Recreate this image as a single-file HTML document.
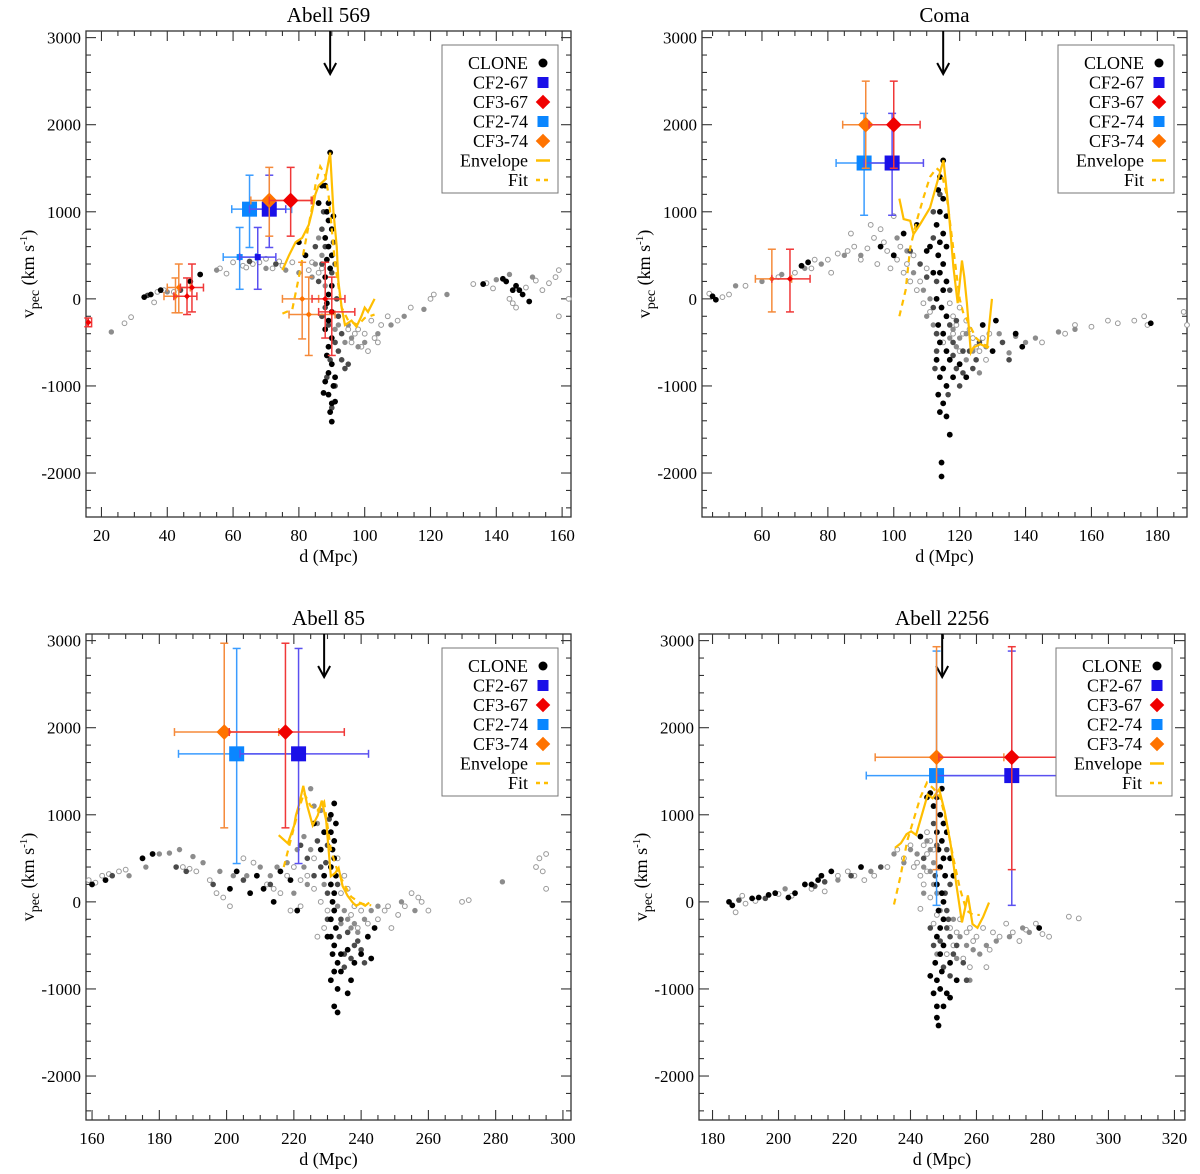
<!DOCTYPE html>
<html><head><meta charset="utf-8"><style>
html,body{margin:0;padding:0;background:#fff;}
svg{display:block;font-family:"Liberation Serif",serif;}
</style></head><body>
<svg id="fig" width="1200" height="1174" viewBox="0 0 1200 1174" xmlns="http://www.w3.org/2000/svg"></svg>
<script>
// ---------- DATA ----------
const titles = ["Abell 569","Coma","Abell 85","Abell 2256"];
const arrowD = [89.5, 115, 229, 249.6];
// Abell 569
const p1Black = [[89.5,1680],[88,1300],[89,1100],[88.5,1000],[89,900],[90,800],[88,700],[89,600],[90,500],[88.5,450],[89.5,350],[88,250],[90,150],[89,50],[88.5,-50],[90,-150],[89,-250],[88,-350],[90,-450],[89,-550],[88.5,-650],[90,-750],[89,-850],[88,-950],[90.5,-1000],[89,-1100],[90,-1200],[89.5,-1300],[90,-1410],[87.5,-1080],[91,-1180],[86,1100],[87,1300],[90.5,950],[91,-900],[33,20],[35,50],[38,100],[47,200],[50,280],[80,650],[82,500],[142,230],[143,200],[146,150],[145,100],[148,50],[150,-30],[147,100],[136,170]];
const p1Dark = [[87,800],[88,600],[91,400],[92,-200],[93,-700],[94,-800],[92,-600],[90,-1250],[91,-1000],[87,400],[86,200],[85,600],[89,-300],[34,40],[44,100],[65,430],[73,400],[95,-750],[93,-400],[90.5,650],[87.5,1000],[90,300],[88,-100],[91,-500],[89.5,-700],[88.5,-900],[87,-200],[91.5,0]];
const p1Gray = [[23,-380],[40,80],[55,330],[70,350],[76,330],[80,300],[84,250],[92,-300],[96,-450],[100,-500],[104,-400],[108,-300],[112,-200],[118,-120],[125,50],[140,220],[144,280],[151,250],[95,-300],[98,-550],[86,700],[87,500],[85,400],[88,150],[91,-350],[94,-500]];
const p1Open = [[27,-280],[29,-210],[36,-40],[37,80],[39,100],[42,80],[56,350],[58,290],[63,380],[66,400],[68,420],[72,350],[75,380],[78,420],[83,330],[86,300],[95,-350],[97,-400],[99,-550],[101,-600],[103,-450],[105,-300],[107,-200],[110,-250],[114,-100],[120,0],[121,50],[133,170],[137,180],[139,120],[144,0],[145,-50],[146,-100],[149,130],[152,210],[154,100],[156,180],[158,250],[159,330],[159,-200],[162,0],[100,-400],[102,-250],[60,420],[64,360],[70,460],[74,430],[84,420],[87,350],[96,-500],[98,-350],[104,-500]];
const p1Env = [[75,330],[77,500],[79,650],[81,700],[83,850],[84,1000],[85,1200],[86,1300],[88,1370],[89.5,1680],[90.5,1000],[91.5,600],[92,200],[93,-100],[94,-300],[96,-250],[97.5,-320],[99,-200],[100,-100],[101,-150],[103,0]];
const p1Fit = [[75,-170],[78,-120],[80,250],[82,650],[84,1050],[85,1300],[86.5,1520],[88,1420],[89,1200],[90,800],[91,400],[92,150],[93,-100],[95,-250],[98,-300],[100,-220],[103,-180]];
const p1Err = [[65,1030,59.6,77.8,590,1420,"cf274",1],[71,1030,65,76,590,1420,"cf267",1],[71,1130,65.4,83.7,720,1510,"cf374",1],[77.5,1130,71,84,720,1510,"cf367",1],
 [62,480,57,67,110,820,"cf274",0],[67.5,480,62,73,110,820,"cf267",0],[43.5,130,40,47,-160,400,"cf374",0],[42.5,30,39,46,-160,240,"cf374",0],[47.5,130,44,51,-150,400,"cf367",0],[46,30,42,49,-180,240,"cf367",0],
 [81,0,75,86,-460,420,"cf374",0],[83,-180,77,91,-650,250,"cf374",0],[88,0,84,94,-450,420,"cf367",0],[90,-150,86,97,-650,250,"cf367",0],[16,-270,15.5,17,-320,-220,"cf367",0]];
// Coma
const p2Black = [[115,1590],[114,1400],[113.5,1250],[115,1150],[114,1000],[116,950],[113,850],[115,750],[114,650],[116,600],[113.5,500],[115,400],[114,300],[116,200],[115,100],[113,0],[114.5,-100],[116,-200],[113.5,-300],[115,-400],[114,-500],[116,-600],[113,-700],[115,-800],[114,-900],[116,-1000],[113.5,-1100],[115,-1200],[114,-1300],[116,-1350],[117,-1560],[114.5,-1880],[114.5,-2040],[117,-700],[118,-900],[112,300],[111,600],[45,30],[46,-10],[72,380],[74,420],[96,600],[100,500],[103,750],[107,850],[110,550],[127,-300],[131,-250],[137,-400],[139,-550],[178,-280],[130,-600],[120,-750],[122,-900]];
const p2Dark = [[112,700],[113,200],[117,-300],[118,-500],[119,-800],[120,-1000],[121,-850],[123,-600],[125,-700],[117,100],[108,400],[105,550],[110,250],[113,-600],[126,-500],[133,-500],[135,-700],[119,-250],[112,-100],[113,-400],[112.5,-800],[116.5,-1100],[114,1200],[112,1000],[118,-650],[121,-600],[124,-800]];
const p2Gray = [[101,700],[104,550],[106,300],[109,100],[111,0],[118,-350],[120,-450],[122,-400],[124,-600],[128,-550],[132,-400],[135,-620],[137,-430],[140,-500],[143,-450],[150,-380],[155,-350],[52,150],[60,200],[66,280],[73,350],[78,400],[85,500],[90,500],[112,-300],[110,-200],[117,-450],[119,-550],[122,-700],[126,-850]];
const p2Open = [[44,60],[48,20],[50,50],[55,150],[65,250],[70,300],[76,450],[80,450],[83,520],[86,550],[88,600],[90,450],[92,580],[94,700],[96,800],[98,550],[99,350],[101,450],[103,300],[105,200],[107,100],[109,-50],[111,-150],[113,-400],[115,-500],[117,-50],[118,-200],[119,-300],[120,-100],[121,-400],[122,-250],[124,-450],[126,-600],[128,-700],[129,-400],[145,-500],[152,-400],[155,-300],[160,-320],[165,-250],[168,-280],[173,-250],[176,-200],[177,-300],[188,-150],[189,-300],[87,750],[93,850],[100,950],[75,350],[81,300],[95,400],[97,650],[102,600],[104,400],[106,500],[108,200],[110,350],[118,-400],[120,-600],[123,-350],[125,-550],[127,-450]];
const p2Env = [[101.7,1151],[103,916],[105,897],[106,743],[108,857],[111,1045],[113.1,1328],[115.1,1592],[116.6,1045],[118.1,366],[119.4,-49],[120.7,440],[121.4,253],[122.2,-49],[123.4,-615],[124.2,-558],[126.3,-520],[128.3,-558],[129.8,0]];
const p2Fit = [[101.7,-200],[103.6,100],[105,590],[107,900],[109,1160],[111,1400],[113,1500],[114.5,1450],[116,1200],[117,900],[118,600],[119,300],[120,0],[121,-150],[123,-300],[125,-450],[127,-520],[129,-560]];
const p2Err = [[91,1560,82.5,100,960,2130,"cf274",1],[99.5,1560,91,109,960,2130,"cf267",1],[91.5,2000,84.5,99,1500,2500,"cf374",1],[100,2000,92.5,108,1500,2500,"cf367",1],
 [63,230,58,69,-150,570,"cf374",0],[68.5,230,63,74.6,-150,570,"cf367",0]];
// Abell 85
const p3Black = [[232,1130],[231,1000],[232.5,900],[231,800],[232,700],[231.5,600],[232,500],[231,400],[232.5,300],[231,200],[232,100],[231.5,0],[232,-100],[231,-200],[232.5,-300],[231,-400],[232,-500],[231.5,-600],[233,-700],[232,-800],[231,-900],[233,-1000],[232,-1200],[233,-1270],[228,600],[229,300],[226,900],[229,800],[230,-400],[234,-600],[236,-550],[238,-700],[240,-600],[242,-400],[244,-300],[243,-650],[160,200],[164,250],[175,500],[178,550],[209,300],[211,150],[214,0],[216,350],[219,250],[221,-100],[201,150],[203,350],[207,100],[234,-800],[236,-1050],[237,-900]];
const p3Dark = [[227,700],[228,400],[230,100],[234,-200],[236,-350],[238,-500],[240,-550],[226,300],[224,500],[222,650],[213,200],[205,250],[196,200],[188,350],[185,400],[166,300],[232,-800],[235,-600],[239,-450],[241,-700],[230,650],[230.5,950],[229.5,450],[233,200],[230,-200],[233.5,-400],[235,-750],[237,-650]];
const p3Gray = [[180,550],[183,560],[186,600],[190,520],[193,450],[198,350],[202,300],[206,300],[210,400],[213,300],[215,400],[218,450],[221,600],[223,750],[225,1300],[226,1100],[229,200],[233,-50],[235,-100],[236,-200],[237,-300],[239,-350],[241,-200],[243,-100],[245,-50],[252,0],[256,-100],[282,230],[171,300],[176,400],[220,100],[224,200],[227,900],[228,1050],[225,600],[223,400],[234,-250],[238,-250]];
const p3Open = [[159,250],[161,220],[163,300],[165,320],[168,350],[170,370],[187,400],[189,380],[191,350],[195,250],[197,100],[199,50],[201,-50],[205,500],[208,450],[212,200],[214,150],[216,100],[219,-100],[222,-50],[224,300],[226,150],[228,0],[230,-100],[234,100],[236,150],[238,-50],[240,-100],[242,-250],[245,-200],[247,-100],[249,-300],[251,-150],[253,-50],[255,100],[257,50],[258,0],[260,-100],[270,0],[272,20],[293,500],[295,550],[294,350],[295,150],[292,400],[233,500],[229,-300],[227,-400],[248,-50],[218,300],[220,400],[222,250],[226,500],[235,300],[237,-150],[239,-300]];
const p3Env = [[215.5,766],[218.2,672],[220.1,879],[220.6,992],[221.6,1124],[222.8,1332],[224.1,1087],[225.6,879],[227.1,992],[228.3,1162],[229.6,936],[231,294],[232.3,332],[233.3,389],[234.5,181],[236,68],[237.5,-8],[238.5,-45],[240,-15],[241.2,-45],[242.4,-8]];
const p3Fit = [[217,400],[219,700],[221,1000],[223,1250],[225,1100],[227,1050],[229,1150],[231,600],[233,350],[235,200],[237,60],[240,-20],[243,-40]];
const p3Err = [[203,1700,185.7,220,440,2910,"cf274",1],[221.4,1700,204,242.2,440,2910,"cf267",1],[199.3,1950,184.5,215.5,850,2970,"cf374",1],[217.5,1950,200.8,235,850,2970,"cf367",1]];
// Abell 2256
const p4Black = [[249.5,1300],[248,1200],[247,1100],[249,1000],[250,900],[248,800],[249.5,700],[248.5,600],[250,500],[249,400],[250.5,300],[248,200],[249.5,100],[250,0],[248.5,-100],[250,-200],[249,-300],[248,-400],[250,-500],[249,-600],[247.5,-700],[249.5,-800],[248,-900],[246,-850],[247,-1050],[249,-1000],[251,-1050],[252,-1100],[248,-1200],[250,-1200],[248,-1330],[248.5,-1420],[245,1200],[243,750],[246,1250],[251,800],[252,500],[253,300],[185,0],[186,-40],[192,40],[194,50],[197,80],[199,100],[203,50],[205,100],[208,200],[210,200],[212,250],[213,300],[216,350],[225,400],[279,-300],[252,-700],[254,-900]];
const p4Dark = [[247,900],[248,650],[251,600],[252,200],[251,-300],[252,-400],[253,-600],[254,-500],[256,-700],[250,-750],[252,-850],[257,-900],[188,20],[196,40],[211,180],[214,230],[222,300],[231,400],[244,500],[246,-300],[250.5,100],[251,-100],[247,-500],[249,-450],[251.5,-200],[247.5,300]];
const p4Gray = [[235,550],[238,450],[240,600],[242,550],[244,400],[246,350],[247,200],[248,100],[249,-100],[253,-200],[255,-400],[257,-500],[259,-550],[261,-600],[263,-500],[266,-450],[270,-400],[274,-300],[276,-350],[202,150],[218,250],[228,350],[258,-900],[244,100],[245,700],[246,600],[247,450],[248,-600],[254,-650]];
const p4Open = [[187,-120],[189,70],[190,-20],[193,10],[200,90],[204,70],[210,150],[214,120],[218,300],[221,350],[223,300],[226,250],[229,300],[233,400],[236,600],[238,500],[240,650],[241,400],[242,450],[243,300],[244,200],[245,550],[246,50],[247,600],[248,-150],[251,-600],[253,-500],[254,-350],[255,-200],[256,-650],[258,-300],[260,-400],[262,-300],[264,-550],[265,-350],[267,-400],[269,-250],[271,-350],[273,-450],[275,-320],[278,-250],[280,-370],[282,-400],[288,-170],[291,-190],[258,-750],[263,-750],[245,800],[243,-80],[244,650],[246,700],[245,350],[247,-250],[252,-300],[257,-350],[259,-450]];
const p4Env = [[235.3,620],[237.1,674],[238.8,777],[240.2,810],[241.7,769],[243.4,992],[245.2,1231],[246.7,1190],[248.7,1293],[250.4,1033],[252.2,653],[253.9,198],[255.6,-236],[257.4,74],[258.8,-256],[260.3,-298],[262,-174],[263.8,-8]];
const p4Fit = [[235,-30],[237,300],[239,700],[241,950],[243,1200],[245,1370],[247,1300],[249,1200],[251,900],[253,500],[255,150],[257,-100],[259,-150],[261,-150]];
const p4Err = [[247.9,1450,226.6,270,-40,2880,"cf274",1],[270.7,1450,248,296.3,-40,2880,"cf267",1],[247.9,1660,229.3,268.3,370,2930,"cf374",1],[270.7,1660,248.6,292.8,370,2930,"cf367",1]];
const yTicks = [-2000,-1000,0,1000,2000,3000];
const legendLabels = ["CLONE","CF2-67","CF3-67","CF2-74","CF3-74","Envelope","Fit"];

// ---------- LAYOUT ----------
const panels = [
 {px0:86,px1:571,py0:31,py1:517,d0:15.3,d1:162.7,xt:[20,40,60,80,100,120,140,160],blk:p1Black,dk:p1Dark,gr:p1Gray,op:p1Open,env:p1Env,fit:p1Fit,err:p1Err},
 {px0:702,px1:1187,py0:31,py1:517,d0:41.8,d1:189,xt:[60,80,100,120,140,160,180],blk:p2Black,dk:p2Dark,gr:p2Gray,op:p2Open,env:p2Env,fit:p2Fit,err:p2Err},
 {px0:86,px1:571,py0:634,py1:1120,d0:158.2,d1:302.4,xt:[160,180,200,220,240,260,280,300],blk:p3Black,dk:p3Dark,gr:p3Gray,op:p3Open,env:p3Env,fit:p3Fit,err:p3Err},
 {px0:699,px1:1185,py0:634,py1:1120,d0:175.9,d1:323.2,xt:[180,200,220,240,260,280,300,320],blk:p4Black,dk:p4Dark,gr:p4Gray,op:p4Open,env:p4Env,fit:p4Fit,err:p4Err}
];
const V0=-2505, V1=3076;
const COL = {cf267:"#1a10e8",cf367:"#f00000",cf274:"#0a86ff",cf374:"#ff7300"};
const BAR = {cf267:"#5a50f0",cf367:"#f03838",cf274:"#3a9cff",cf374:"#f58a3a"};
const YEL = "#ffbe00";
const NS="http://www.w3.org/2000/svg";
const svg=document.getElementById("fig");
function mk(tag,attrs,parent){const e=document.createElementNS(NS,tag);for(const k in attrs)e.setAttribute(k,attrs[k]);(parent||svg).appendChild(e);return e;}
function marker(g,type,x,y,s){
  let e;
  if(type==="cf267"||type==="cf274"){e=mk("rect",{x:x-s/2,y:y-s/2,width:s,height:s,fill:COL[type]},g);}
  else{const h=s*0.52;e=mk("polygon",{points:`${x},${y-h} ${x+h},${y} ${x},${y+h} ${x-h},${y}`,fill:COL[type]},g);}
  return e;
}

panels.forEach((p,i)=>{
  const X=d=>p.px0+(d-p.d0)/(p.d1-p.d0)*(p.px1-p.px0);
  const Y=v=>p.py0+(V1-v)/(V1-V0)*(p.py1-p.py0);
  const g=mk("g",{});
  
  
  const cx=(p.px0+p.px1)/2;
  const t=mk("text",{x:cx,y:p.py0-9,"text-anchor":"middle","font-size":"21"},g);t.textContent=titles[i];
  
  
  const fr=mk("rect",{x:p.px0,y:p.py0,width:p.px1-p.px0,height:p.py1-p.py0,fill:"none",stroke:"#333","stroke-width":"1.3"},g);
  
  
  const ax=mk("g",{stroke:"#333","stroke-width":"1.1"},g);
  
  
  for(let d=Math.ceil(p.d0/5)*5; d<=p.d1; d+=5){
    const x=X(d), L=(d%20===0)?10:5;
    mk("line",{x1:x,y1:p.py1,x2:x,y2:p.py1-L},ax);
    mk("line",{x1:x,y1:p.py0,x2:x,y2:p.py0+L},ax);
  }
  p.xt.forEach(d=>{const tx=mk("text",{x:X(d),y:p.py1+24,"text-anchor":"middle","font-size":"17",stroke:"none",fill:"#000"},g);tx.textContent=d;
    
    });
  const xl=mk("text",{x:cx,y:p.py1+45,"text-anchor":"middle","font-size":"18"},g);xl.textContent="d (Mpc)";
  
  
  const ay=mk("g",{stroke:"#333","stroke-width":"1.1"},g);
  
  
  for(let v=-2400; v<=3000; v+=200){
    const y=Y(v), L=(v%1000===0)?10:5;
    mk("line",{x1:p.px0,y1:y,x2:p.px0+L,y2:y},ay);
    mk("line",{x1:p.px1,y1:y,x2:p.px1-L,y2:y},ay);
  }
  yTicks.forEach(v=>{const ty=mk("text",{x:p.px0-5,y:Y(v)+6,"text-anchor":"end","font-size":"17"},g);ty.textContent=v;
    
    });
  const yl=mk("text",{transform:`translate(${p.px0-52},${(p.py0+p.py1)/2}) rotate(-90)`,"text-anchor":"middle","font-size":"18"},g);
  yl.innerHTML='v<tspan dy="5" font-size="14">pec</tspan><tspan dy="-5"> (km s</tspan><tspan dy="-7" font-size="11">-1</tspan><tspan dy="7">)</tspan>';
  
  
  const sc=mk("g",{},g);
  
  
  p.op.forEach(([d,v])=>{const c=mk("circle",{cx:X(d),cy:Y(v),r:2.4,fill:"#fff",stroke:"#999","stroke-width":"1"},sc);
    
    });
  p.gr.forEach(([d,v])=>{const c=mk("circle",{cx:X(d),cy:Y(v),r:2.7,fill:"#8c8c8c"},sc);
    
    });
  p.dk.forEach(([d,v])=>{const c=mk("circle",{cx:X(d),cy:Y(v),r:2.8,fill:"#4a4a4a"},sc);
    
    });
  p.blk.forEach(([d,v])=>{const c=mk("circle",{cx:X(d),cy:Y(v),r:2.9,fill:"#000"},sc);
    
    });
  const ev=mk("polyline",{points:p.env.map(([d,v])=>X(d)+","+Y(v)).join(" "),fill:"none",stroke:YEL,"stroke-width":"2.2"},g);
  
  
  const ft=mk("polyline",{points:p.fit.map(([d,v])=>X(d)+","+Y(v)).join(" "),fill:"none",stroke:YEL,"stroke-width":"2.2","stroke-dasharray":"6,5"},g);
  
  
  const axd=X(arrowD[i]);
  const ar=mk("g",{stroke:"#000","stroke-width":"2",fill:"none"},g);
  
  
  mk("line",{x1:axd,y1:p.py0,x2:axd,y2:p.py0+43},ar);
  mk("polyline",{points:`${axd-6},${p.py0+32} ${axd},${p.py0+43} ${axd+6},${p.py0+32}`},ar);
  p.err.forEach(([d,v,dl,dh,vl,vh,type,big])=>{
    const eg=mk("g",{stroke:BAR[type],"stroke-width":"1.5"},g);
    
    
    const x=X(d),y=Y(v),c=4;
    mk("line",{x1:X(dl),y1:y,x2:X(dh),y2:y},eg);
    mk("line",{x1:x,y1:Y(vl),x2:x,y2:Y(vh)},eg);
    mk("line",{x1:X(dl),y1:y-c,x2:X(dl),y2:y+c},eg);
    mk("line",{x1:X(dh),y1:y-c,x2:X(dh),y2:y+c},eg);
    mk("line",{x1:x-c,y1:Y(vl),x2:x+c,y2:Y(vl)},eg);
    mk("line",{x1:x-c,y1:Y(vh),x2:x+c,y2:Y(vh)},eg);
    const m=marker(eg,type,x,y,big?15:6); m.setAttribute("stroke","none");
  });
  const lx1=p.px1-13, ly0=p.py0+14;
  const lg=mk("g",{},g);
  
  
  mk("rect",{x:lx1-116,y:ly0,width:116,height:148,fill:"#fff",stroke:"#777","stroke-width":"1"},lg);
  legendLabels.forEach((lab,k)=>{
    const yy=ly0+18+k*19.5;
    const tx=mk("text",{x:lx1-30,y:yy+6,"text-anchor":"end","font-size":"18"},lg);tx.textContent=lab;
    
    
    const mx=lx1-15;
    if(k===0) mk("circle",{cx:mx,cy:yy,r:4.5,fill:"#000"},lg);
    else if(k===1) marker(lg,"cf267",mx,yy,11);
    else if(k===2) marker(lg,"cf367",mx,yy,14);
    else if(k===3) marker(lg,"cf274",mx,yy,11);
    else if(k===4) marker(lg,"cf374",mx,yy,14);
    else if(k===5) mk("line",{x1:mx-7,y1:yy,x2:mx+7,y2:yy,stroke:YEL,"stroke-width":"2.5"},lg);
    else mk("line",{x1:mx-7,y1:yy,x2:mx+7,y2:yy,stroke:YEL,"stroke-width":"2.5","stroke-dasharray":"4,4"},lg);
  });
});
</script>
</body></html>
